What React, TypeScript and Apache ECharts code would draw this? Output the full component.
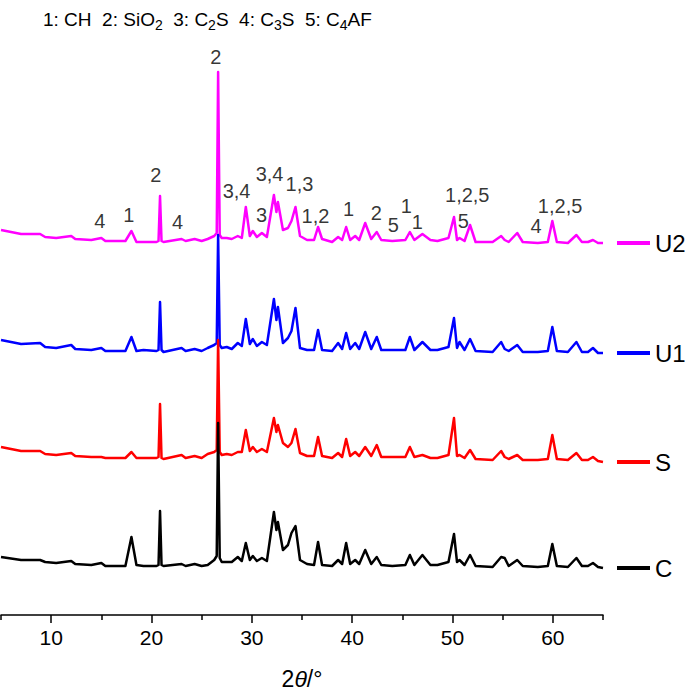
import React, { useEffect, useRef } from 'react';
import * as echarts from 'echarts';

// 2θ sampling points (degrees)
const THETA = [5.0, 7.0, 8.9, 9.4, 10.5, 12.0, 12.4, 14.0, 15.0, 15.4, 17.4, 18.0, 18.5, 19.2, 20.5, 20.7, 20.85, 21.0, 21.2, 23.0, 23.4, 24.3, 25.0, 25.6, 26.25, 26.5, 26.64, 26.8, 27.0, 27.5, 28.0, 28.6, 29.0, 29.4, 29.8, 30.1, 30.5, 31.0, 31.5, 32.2, 32.45, 32.6, 33.1, 33.6, 33.95, 34.35, 34.8, 35.5, 36.2, 36.6, 37.0, 38.0, 38.6, 39.0, 39.4, 39.8, 40.3, 40.7, 41.3, 41.9, 42.45, 42.9, 44.0, 45.3, 45.75, 46.2, 47.0, 47.8, 48.5, 49.6, 50.15, 50.45, 50.7, 51.2, 51.75, 52.3, 54.0, 54.85, 55.2, 55.6, 56.45, 57.0, 58.5, 59.5, 59.95, 60.4, 61.5, 62.35, 62.9, 63.5, 64.0, 64.5, 65.0];

// Intensities (a.u., relative to each pattern's own end baseline)
const U2 = [13, 9, 9, 6, 5, 7, 4, 3, 5, 2, 2, 12, 1, 1, 1, 2, 47, 2, 1, 4, 2, 4, 2, 4, 7, 10, 171, 8, 5, 5, 4, 7, 5, 36, 7, 12, 6, 10, 6, 48, 31, 41, 13, 15, 22, 36, 7, 3, 3, 16, 4, 1, 6, 3, 16, 3, 7, 3, 20, 4, 11, 3, 2, 3, 11, 3, 9, 3, 2, 5, 26, 3, 5, 2, 18, 1, 1, 7, 3, 1, 10, 1, 0, 1, 22, 1, 0, 8, 1, 1, 3, 0, 0];
const U1 = [13, 9, 10, 6, 5, 8, 4, 3, 5, 2, 2, 16, 2, 3, 2, 3, 51, 3, 1, 5, 2, 4, 2, 5, 8, 10, 118, 8, 5, 6, 4, 10, 7, 34, 9, 14, 7, 11, 8, 54, 33, 46, 10, 15, 22, 45, 5, 3, 3, 23, 3, 2, 10, 4, 20, 4, 10, 4, 21, 4, 16, 3, 3, 3, 16, 3, 11, 3, 3, 6, 35, 5, 11, 3, 14, 2, 1, 11, 4, 2, 8, 1, 1, 2, 26, 2, 1, 11, 1, 1, 5, 0, 0];
const S = [15, 11, 11, 8, 7, 9, 6, 5, 5, 4, 4, 10, 4, 4, 4, 5, 58, 4, 3, 7, 4, 6, 4, 8, 10, 12, 122, 10, 7, 8, 7, 10, 10, 32, 11, 15, 10, 13, 10, 44, 30, 37, 19, 15, 19, 33, 9, 6, 6, 25, 6, 4, 9, 5, 23, 6, 10, 6, 15, 6, 17, 5, 5, 5, 15, 5, 7, 4, 4, 7, 44, 6, 7, 4, 12, 3, 2, 11, 5, 3, 7, 2, 2, 3, 27, 3, 2, 9, 2, 2, 5, 1, 0];
const C = [11, 8, 8, 6, 5, 7, 4, 3, 5, 2, 2, 31, 3, 2, 2, 3, 57, 3, 2, 4, 2, 4, 2, 3, 8, 12, 145, 10, 6, 6, 6, 11, 7, 25, 8, 12, 7, 10, 7, 56, 38, 46, 18, 23, 35, 42, 8, 4, 3, 26, 3, 2, 8, 4, 25, 4, 8, 4, 18, 4, 11, 3, 2, 3, 13, 3, 13, 3, 3, 6, 34, 6, 8, 3, 13, 2, 1, 11, 10, 2, 8, 2, 1, 2, 24, 2, 1, 10, 2, 2, 5, 1, 0];

const SERIES_NAMES = ['U2', 'U1', 'S', 'C'];
const SERIES_DATA = [U2, U1, S, C];
const OFFSETS = [372, 262, 153, 47];
const COLORS = ['#FF00FF', '#0000FF', '#FF0000', '#000000'];

const MAJOR_TICKS = [10, 20, 30, 40, 50, 60];
const MINOR_TICKS = [5, 15, 25, 35, 45, 55, 65];

// Phase annotations above the U2 pattern (2θ, stacked intensity)
const PEAK_LABEL_TEXT = ['2', '2', '4', '1', '4', '3,4', '3,4', '1,3', '3', '1,2', '1', '2', '5', '1', '1', '1,2,5', '5', '4', '1,2,5'];
const PEAK_LABEL_X = [26.4, 20.42, 14.85, 17.74, 22.61, 28.48, 31.77, 34.75, 30.97, 36.34, 39.63, 42.41, 44.1, 45.4, 46.49, 51.47, 51.07, 58.33, 60.72];
const PEAK_LABEL_Y = [558, 440, 394, 400, 393, 424, 441, 431, 400, 399, 406, 402, 390, 409, 393, 420, 394, 389, 409];

const LEGEND_TOP = [223, 333, 442, 548];

const FONT = "'Liberation Sans', Arial, Helvetica, sans-serif";

export default function App() {
  const ref = useRef<HTMLDivElement>(null);

  useEffect(() => {
    if (!ref.current) return;
    const chart = echarts.init(ref.current, null, { renderer: 'svg' });

    const lineSeries = SERIES_NAMES.map((name, i) => ({
      name,
      type: 'line',
      data: THETA.map((t, j) => [t, SERIES_DATA[i][j] + OFFSETS[i]]),
      showSymbol: false,
      symbol: 'none',
      smooth: false,
      lineStyle: { color: COLORS[i], width: 2.5, join: 'round' },
      itemStyle: { color: COLORS[i] },
      silent: true,
    }));

    const labelSeries = {
      name: 'peaks',
      type: 'scatter',
      data: PEAK_LABEL_TEXT.map((txt, i) => ({ name: txt, value: [PEAK_LABEL_X[i], PEAK_LABEL_Y[i]] })),
      symbolSize: 1,
      itemStyle: { color: 'rgba(0,0,0,0)' },
      label: {
        show: true,
        position: 'inside',
        formatter: '{b}',
        fontSize: 20,
        color: '#000',
        textBorderWidth: 0,
        fontFamily: FONT,
      },
      silent: true,
      z: 5,
    };

    const option: any = {
      animation: false,
      backgroundColor: '#fff',
      title: {
        text: '1: CH  2: SiO{s|2}  3: C{s|2}S  4: C{s|3}S  5: C{s|4}AF',
        left: 38,
        top: 1,
        textStyle: {
          fontSize: 19,
          fontWeight: 'normal',
          color: '#000',
          fontFamily: FONT,
          lineHeight: 26,
          rich: {
            s: { fontSize: 14, fontFamily: FONT, color: '#000', lineHeight: 14, verticalAlign: 'bottom' },
          },
        },
      },
      legend: SERIES_NAMES.map((n, i) => ({
        data: [n],
        left: 612,
        top: LEGEND_TOP[i],
        icon: 'rect',
        itemWidth: 33,
        itemHeight: 4,
        selectedMode: false,
        textStyle: { fontSize: 24, color: '#000', fontFamily: FONT, lineHeight: 30 },
      })),
      grid: { left: 1, right: 82, top: 40, bottom: 84, containLabel: false },
      xAxis: [
        {
          type: 'value',
          min: 5,
          max: 65,
          position: 'bottom',
          axisLine: { show: true, lineStyle: { color: '#000', width: 1.5 } },
          axisTick: { show: true, length: 8, customValues: MAJOR_TICKS, lineStyle: { color: '#000', width: 1.5 } },
          axisLabel: { customValues: MAJOR_TICKS, fontSize: 21, color: '#000', margin: 12, fontFamily: FONT },
          splitLine: { show: false },
          name: '2{i|θ}/°',
          nameLocation: 'middle',
          nameGap: 52,
          nameTextStyle: {
            fontSize: 23,
            color: '#000',
            fontFamily: FONT,
            rich: { i: { fontSize: 23, fontStyle: 'italic', color: '#000', fontFamily: FONT } },
          },
        },
        {
          type: 'value',
          min: 5,
          max: 65,
          position: 'bottom',
          axisLine: { show: false },
          axisTick: { show: true, length: 5, customValues: MINOR_TICKS, lineStyle: { color: '#000', width: 1.5 } },
          axisLabel: { show: false },
          splitLine: { show: false },
        },
      ],
      yAxis: { type: 'value', min: 0, max: 575, show: false },
      series: [...lineSeries, labelSeries],
    };

    chart.setOption(option);
    return () => chart.dispose();
  }, []);

  return <div ref={ref} style={{ position: 'absolute', left: 0, top: 0, width: 685, height: 699 }} />;
}
